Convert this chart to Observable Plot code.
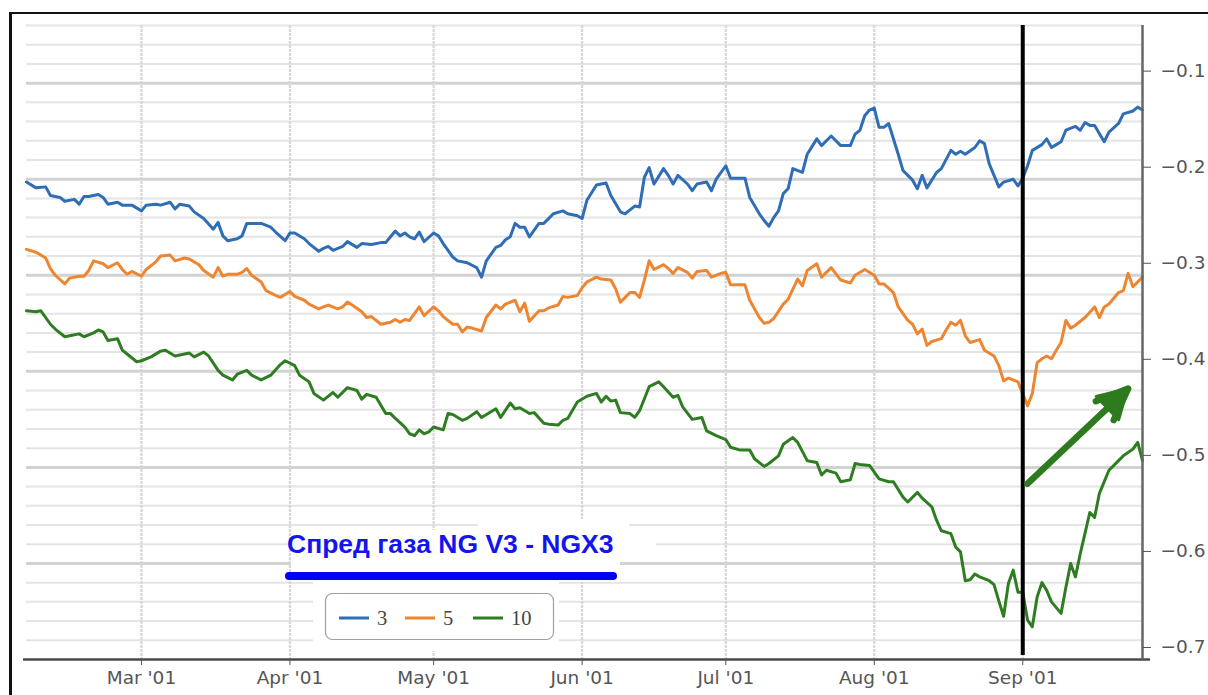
<!DOCTYPE html>
<html>
<head>
<meta charset="utf-8">
<script src="https://cdn.jsdelivr.net/npm/d3@7"></script>
<script src="https://cdn.jsdelivr.net/npm/@observablehq/plot@0.6"></script>
<style>
  body { margin: 0; background: #fff; }
  #wrap { position: relative; width: 1208px; height: 695px; overflow: hidden; background: #fff; }
  #chart, #overlay { position: absolute; left: 0; top: 0; }
  #frame { position: absolute; left: 9px; top: 12px; width: 1400px; height: 900px;
           border-left: 3px solid #111; border-top: 2px solid #111; pointer-events: none; }
</style>
</head>
<body>
<div id="wrap"><div id="chart"></div><svg id="overlay" width="1208" height="695"></svg><div id="frame"></div></div>
<script>
// ---------------- data ----------------
const seriesNames = ["3", "5", "10"];
const seriesColors = ["#2f6db5", "#ee8530", "#2f7d22"];

const series3 = [
  ["2001-02-05",-0.203],["2001-02-07",-0.209],["2001-02-09",-0.208],["2001-02-10",-0.217],["2001-02-12",-0.219],
  ["2001-02-13",-0.223],["2001-02-15",-0.221],["2001-02-16",-0.226],["2001-02-17",-0.218],["2001-02-18",-0.218],
  ["2001-02-20",-0.216],["2001-02-21",-0.219],["2001-02-22",-0.226],["2001-02-24",-0.224],["2001-02-25",-0.227],
  ["2001-02-27",-0.227],["2001-03-01",-0.233],["2001-03-02",-0.227],["2001-03-04",-0.226],["2001-03-05",-0.227],
  ["2001-03-07",-0.224],["2001-03-08",-0.231],["2001-03-09",-0.226],["2001-03-11",-0.228],["2001-03-12",-0.234],
  ["2001-03-14",-0.241],["2001-03-16",-0.252],["2001-03-17",-0.245],["2001-03-18",-0.259],["2001-03-19",-0.264],
  ["2001-03-21",-0.262],["2001-03-22",-0.259],["2001-03-23",-0.246],["2001-03-24",-0.246],["2001-03-26",-0.246],
  ["2001-03-28",-0.250],["2001-03-29",-0.255],["2001-03-31",-0.264],["2001-04-01",-0.256],["2001-04-02",-0.256],
  ["2001-04-04",-0.262],["2001-04-05",-0.267],["2001-04-07",-0.275],["2001-04-08",-0.272],["2001-04-09",-0.270],
  ["2001-04-10",-0.274],["2001-04-12",-0.270],["2001-04-13",-0.265],["2001-04-15",-0.271],["2001-04-16",-0.267],
  ["2001-04-18",-0.268],["2001-04-20",-0.266],["2001-04-21",-0.266],["2001-04-22",-0.260],["2001-04-23",-0.254],
  ["2001-04-24",-0.259],["2001-04-25",-0.256],["2001-04-26",-0.260],["2001-04-27",-0.262],["2001-04-28",-0.255],
  ["2001-04-29",-0.265],["2001-05-01",-0.256],["2001-05-02",-0.259],["2001-05-03",-0.267],["2001-05-05",-0.281],
  ["2001-05-06",-0.285],["2001-05-08",-0.287],["2001-05-10",-0.292],["2001-05-11",-0.302],["2001-05-12",-0.285],
  ["2001-05-14",-0.271],["2001-05-15",-0.269],["2001-05-16",-0.263],["2001-05-17",-0.260],["2001-05-18",-0.246],
  ["2001-05-19",-0.250],["2001-05-20",-0.250],["2001-05-21",-0.260],["2001-05-23",-0.246],["2001-05-24",-0.246],
  ["2001-05-25",-0.241],["2001-05-26",-0.236],["2001-05-28",-0.233],["2001-05-29",-0.236],["2001-05-31",-0.238],
  ["2001-06-01",-0.241],["2001-06-02",-0.222],["2001-06-04",-0.206],["2001-06-06",-0.204],["2001-06-07",-0.217],
  ["2001-06-09",-0.234],["2001-06-10",-0.236],["2001-06-11",-0.232],["2001-06-12",-0.228],["2001-06-13",-0.229],
  ["2001-06-14",-0.198],["2001-06-15",-0.188],["2001-06-16",-0.205],["2001-06-18",-0.189],["2001-06-19",-0.196],
  ["2001-06-20",-0.205],["2001-06-21",-0.196],["2001-06-23",-0.205],["2001-06-24",-0.212],["2001-06-25",-0.205],
  ["2001-06-27",-0.203],["2001-06-28",-0.212],["2001-06-29",-0.200],["2001-07-01",-0.186],["2001-07-02",-0.199],
  ["2001-07-05",-0.199],["2001-07-06",-0.219],["2001-07-08",-0.236],["2001-07-09",-0.243],["2001-07-10",-0.249],
  ["2001-07-11",-0.240],["2001-07-12",-0.233],["2001-07-13",-0.215],["2001-07-14",-0.210],["2001-07-15",-0.189],
  ["2001-07-17",-0.193],["2001-07-18",-0.174],["2001-07-20",-0.158],["2001-07-21",-0.165],["2001-07-22",-0.160],
  ["2001-07-23",-0.155],["2001-07-25",-0.165],["2001-07-27",-0.165],["2001-07-28",-0.153],["2001-07-29",-0.149],
  ["2001-07-30",-0.134],["2001-07-31",-0.128],["2001-08-01",-0.126],["2001-08-02",-0.146],["2001-08-03",-0.146],
  ["2001-08-04",-0.142],["2001-08-06",-0.174],["2001-08-07",-0.191],["2001-08-09",-0.201],["2001-08-10",-0.210],
  ["2001-08-11",-0.196],["2001-08-12",-0.209],["2001-08-14",-0.193],["2001-08-15",-0.189],["2001-08-17",-0.170],
  ["2001-08-18",-0.174],["2001-08-19",-0.171],["2001-08-20",-0.174],["2001-08-22",-0.167],["2001-08-23",-0.160],
  ["2001-08-24",-0.163],["2001-08-25",-0.184],["2001-08-27",-0.208],["2001-08-28",-0.203],["2001-08-30",-0.200],
  ["2001-08-31",-0.207],["2001-09-01",-0.199],["2001-09-02",-0.186],["2001-09-03",-0.170],["2001-09-05",-0.164],
  ["2001-09-06",-0.158],["2001-09-07",-0.167],["2001-09-08",-0.164],["2001-09-09",-0.161],["2001-09-10",-0.149],
  ["2001-09-12",-0.145],["2001-09-13",-0.149],["2001-09-14",-0.141],["2001-09-15",-0.144],["2001-09-16",-0.144],
  ["2001-09-18",-0.161],["2001-09-19",-0.151],["2001-09-21",-0.142],["2001-09-22",-0.132],["2001-09-24",-0.129],
  ["2001-09-25",-0.125],["2001-09-26",-0.128]
];

const series5 = [
  ["2001-02-05",-0.273],["2001-02-07",-0.276],["2001-02-08",-0.279],["2001-02-09",-0.282],["2001-02-10",-0.293],
  ["2001-02-11",-0.300],["2001-02-13",-0.309],["2001-02-14",-0.303],["2001-02-16",-0.301],["2001-02-17",-0.301],
  ["2001-02-18",-0.295],["2001-02-19",-0.285],["2001-02-21",-0.288],["2001-02-22",-0.292],["2001-02-24",-0.287],
  ["2001-02-25",-0.294],["2001-02-26",-0.299],["2001-02-27",-0.296],["2001-03-01",-0.301],["2001-03-02",-0.294],
  ["2001-03-04",-0.286],["2001-03-05",-0.280],["2001-03-07",-0.279],["2001-03-08",-0.285],["2001-03-10",-0.282],
  ["2001-03-11",-0.283],["2001-03-13",-0.289],["2001-03-14",-0.295],["2001-03-16",-0.302],["2001-03-17",-0.292],
  ["2001-03-18",-0.301],["2001-03-19",-0.299],["2001-03-21",-0.299],["2001-03-22",-0.297],["2001-03-23",-0.293],
  ["2001-03-24",-0.300],["2001-03-26",-0.307],["2001-03-27",-0.316],["2001-03-29",-0.321],["2001-03-30",-0.323],
  ["2001-04-01",-0.317],["2001-04-02",-0.322],["2001-04-04",-0.326],["2001-04-05",-0.330],["2001-04-07",-0.335],
  ["2001-04-08",-0.333],["2001-04-09",-0.331],["2001-04-11",-0.335],["2001-04-12",-0.333],["2001-04-13",-0.328],
  ["2001-04-14",-0.331],["2001-04-16",-0.338],["2001-04-17",-0.344],["2001-04-18",-0.343],["2001-04-20",-0.351],
  ["2001-04-22",-0.349],["2001-04-23",-0.346],["2001-04-24",-0.349],["2001-04-25",-0.346],["2001-04-26",-0.347],
  ["2001-04-28",-0.333],["2001-04-29",-0.342],["2001-05-01",-0.333],["2001-05-02",-0.337],["2001-05-03",-0.343],
  ["2001-05-05",-0.351],["2001-05-06",-0.351],["2001-05-07",-0.359],["2001-05-08",-0.354],["2001-05-09",-0.355],
  ["2001-05-11",-0.358],["2001-05-12",-0.344],["2001-05-14",-0.331],["2001-05-15",-0.335],["2001-05-16",-0.330],
  ["2001-05-18",-0.326],["2001-05-19",-0.338],["2001-05-20",-0.329],["2001-05-21",-0.348],["2001-05-23",-0.337],
  ["2001-05-24",-0.337],["2001-05-25",-0.334],["2001-05-27",-0.331],["2001-05-28",-0.322],["2001-05-29",-0.323],
  ["2001-05-31",-0.321],["2001-06-01",-0.313],["2001-06-02",-0.307],["2001-06-04",-0.302],["2001-06-05",-0.304],
  ["2001-06-07",-0.305],["2001-06-08",-0.314],["2001-06-09",-0.328],["2001-06-10",-0.323],["2001-06-11",-0.318],
  ["2001-06-12",-0.318],["2001-06-13",-0.323],["2001-06-14",-0.305],["2001-06-15",-0.285],["2001-06-16",-0.294],
  ["2001-06-18",-0.289],["2001-06-19",-0.293],["2001-06-20",-0.298],["2001-06-21",-0.292],["2001-06-23",-0.297],
  ["2001-06-24",-0.303],["2001-06-25",-0.296],["2001-06-27",-0.295],["2001-06-28",-0.302],["2001-06-30",-0.298],
  ["2001-07-01",-0.297],["2001-07-02",-0.310],["2001-07-05",-0.310],["2001-07-06",-0.326],["2001-07-08",-0.344],
  ["2001-07-09",-0.350],["2001-07-10",-0.349],["2001-07-11",-0.345],["2001-07-13",-0.330],["2001-07-14",-0.325],
  ["2001-07-16",-0.304],["2001-07-17",-0.311],["2001-07-18",-0.295],["2001-07-20",-0.288],["2001-07-21",-0.302],
  ["2001-07-23",-0.292],["2001-07-25",-0.305],["2001-07-27",-0.308],["2001-07-28",-0.300],["2001-07-30",-0.294],
  ["2001-08-01",-0.300],["2001-08-02",-0.309],["2001-08-03",-0.309],["2001-08-05",-0.318],["2001-08-06",-0.333],
  ["2001-08-08",-0.347],["2001-08-09",-0.351],["2001-08-10",-0.361],["2001-08-11",-0.356],["2001-08-12",-0.373],
  ["2001-08-13",-0.369],["2001-08-15",-0.366],["2001-08-16",-0.357],["2001-08-17",-0.349],["2001-08-18",-0.352],
  ["2001-08-19",-0.347],["2001-08-20",-0.363],["2001-08-21",-0.370],["2001-08-23",-0.367],["2001-08-24",-0.378],
  ["2001-08-26",-0.384],["2001-08-27",-0.394],["2001-08-28",-0.410],["2001-08-29",-0.407],["2001-08-30",-0.409],
  ["2001-08-31",-0.411],["2001-09-02",-0.436],["2001-09-03",-0.423],["2001-09-04",-0.391],["2001-09-05",-0.387],
  ["2001-09-06",-0.384],["2001-09-07",-0.387],["2001-09-08",-0.378],["2001-09-09",-0.370],["2001-09-10",-0.347],
  ["2001-09-11",-0.355],["2001-09-12",-0.352],["2001-09-14",-0.344],["2001-09-16",-0.333],["2001-09-17",-0.344],
  ["2001-09-18",-0.333],["2001-09-19",-0.330],["2001-09-21",-0.318],["2001-09-22",-0.316],["2001-09-23",-0.298],
  ["2001-09-24",-0.312],["2001-09-26",-0.302]
];

const series10 = [
  ["2001-02-05",-0.337],["2001-02-07",-0.338],["2001-02-08",-0.337],["2001-02-10",-0.351],["2001-02-11",-0.356],
  ["2001-02-13",-0.364],["2001-02-14",-0.363],["2001-02-16",-0.361],["2001-02-17",-0.364],["2001-02-19",-0.360],
  ["2001-02-20",-0.357],["2001-02-21",-0.359],["2001-02-22",-0.368],["2001-02-24",-0.366],["2001-02-25",-0.378],
  ["2001-02-26",-0.382],["2001-02-28",-0.390],["2001-03-01",-0.389],["2001-03-03",-0.385],["2001-03-05",-0.379],
  ["2001-03-06",-0.378],["2001-03-08",-0.384],["2001-03-11",-0.381],["2001-03-12",-0.385],["2001-03-14",-0.380],
  ["2001-03-15",-0.384],["2001-03-17",-0.399],["2001-03-18",-0.404],["2001-03-20",-0.409],["2001-03-21",-0.403],
  ["2001-03-23",-0.399],["2001-03-24",-0.404],["2001-03-26",-0.409],["2001-03-28",-0.404],["2001-03-30",-0.393],
  ["2001-03-31",-0.389],["2001-04-02",-0.394],["2001-04-03",-0.404],["2001-04-05",-0.411],["2001-04-06",-0.423],
  ["2001-04-08",-0.430],["2001-04-10",-0.422],["2001-04-11",-0.427],["2001-04-13",-0.417],["2001-04-15",-0.420],
  ["2001-04-16",-0.429],["2001-04-17",-0.424],["2001-04-19",-0.427],["2001-04-21",-0.444],["2001-04-22",-0.444],
  ["2001-04-23",-0.449],["2001-04-25",-0.458],["2001-04-26",-0.465],["2001-04-27",-0.467],["2001-04-28",-0.461],
  ["2001-04-29",-0.465],["2001-04-30",-0.463],["2001-05-01",-0.458],["2001-05-03",-0.461],["2001-05-04",-0.444],
  ["2001-05-05",-0.445],["2001-05-07",-0.451],["2001-05-08",-0.449],["2001-05-10",-0.442],["2001-05-11",-0.448],
  ["2001-05-14",-0.439],["2001-05-15",-0.448],["2001-05-17",-0.433],["2001-05-18",-0.439],["2001-05-19",-0.438],
  ["2001-05-21",-0.444],["2001-05-22",-0.443],["2001-05-24",-0.454],["2001-05-25",-0.455],["2001-05-27",-0.456],
  ["2001-05-28",-0.451],["2001-05-29",-0.449],["2001-05-31",-0.432],["2001-06-02",-0.426],["2001-06-04",-0.423],
  ["2001-06-05",-0.432],["2001-06-06",-0.426],["2001-06-07",-0.431],["2001-06-08",-0.430],["2001-06-09",-0.443],
  ["2001-06-11",-0.444],["2001-06-12",-0.448],["2001-06-13",-0.441],["2001-06-15",-0.416],["2001-06-17",-0.411],
  ["2001-06-18",-0.416],["2001-06-20",-0.427],["2001-06-21",-0.425],["2001-06-22",-0.437],["2001-06-24",-0.450],
  ["2001-06-26",-0.448],["2001-06-27",-0.462],["2001-06-29",-0.467],["2001-06-30",-0.469],["2001-07-01",-0.471],
  ["2001-07-02",-0.479],["2001-07-04",-0.482],["2001-07-06",-0.482],["2001-07-07",-0.491],["2001-07-09",-0.499],
  ["2001-07-10",-0.496],["2001-07-12",-0.488],["2001-07-13",-0.476],["2001-07-15",-0.469],["2001-07-16",-0.474],
  ["2001-07-18",-0.493],["2001-07-20",-0.495],["2001-07-21",-0.508],["2001-07-22",-0.503],["2001-07-24",-0.506],
  ["2001-07-25",-0.515],["2001-07-26",-0.514],["2001-07-27",-0.513],["2001-07-28",-0.496],["2001-07-29",-0.497],
  ["2001-07-31",-0.498],["2001-08-02",-0.512],["2001-08-04",-0.515],["2001-08-05",-0.515],["2001-08-07",-0.531],
  ["2001-08-08",-0.536],["2001-08-10",-0.526],["2001-08-11",-0.532],["2001-08-13",-0.541],["2001-08-14",-0.555],
  ["2001-08-15",-0.566],["2001-08-17",-0.569],["2001-08-18",-0.583],["2001-08-19",-0.588],["2001-08-20",-0.618],
  ["2001-08-21",-0.617],["2001-08-22",-0.611],["2001-08-23",-0.614],["2001-08-25",-0.618],["2001-08-26",-0.622],
  ["2001-08-27",-0.639],["2001-08-28",-0.655],["2001-08-29",-0.621],["2001-08-30",-0.607],["2001-08-31",-0.630],
  ["2001-09-01",-0.630],["2001-09-02",-0.659],["2001-09-03",-0.666],["2001-09-04",-0.635],["2001-09-05",-0.620],
  ["2001-09-06",-0.628],["2001-09-07",-0.640],["2001-09-09",-0.652],["2001-09-10",-0.625],["2001-09-11",-0.600],
  ["2001-09-12",-0.614],["2001-09-13",-0.590],["2001-09-15",-0.547],["2001-09-16",-0.552],["2001-09-17",-0.527],
  ["2001-09-19",-0.503],["2001-09-21",-0.493],["2001-09-22",-0.488],["2001-09-24",-0.481],["2001-09-25",-0.474],
  ["2001-09-26",-0.493]
];

const xDomain = ["2001-02-05", "2001-09-26"];
const monthTicks = ["2001-03-01","2001-04-01","2001-05-01","2001-06-01","2001-07-01","2001-08-01","2001-09-01"];
const yDomain = [-0.7, -0.04];
const yMajorTicks = [-0.7, -0.6, -0.5, -0.4, -0.3, -0.2, -0.1];
const yMinorTicks = [-0.68,-0.66,-0.64,-0.62,-0.58,-0.56,-0.54,-0.52,-0.48,-0.46,-0.44,-0.42,
                     -0.38,-0.36,-0.34,-0.32,-0.28,-0.26,-0.24,-0.22,-0.18,-0.16,-0.14,-0.12,-0.08,-0.06,-0.04];
const markerDate = "2001-09-01";
const arrowAnnotation = [{x1: "2001-09-02", y1: -0.517, x2: "2001-09-23", y2: -0.418}];
const titleText = "Спред газа NG V3 - NGX3";

// ---------------- build ----------------
const parse = d3.utcParse("%Y-%m-%d");
const allSeries = [series3, series5, series10];
const rows = [];
allSeries.forEach((arr, i) => arr.forEach(([d, v]) => rows.push({series: seriesNames[i], date: parse(d), value: v})));
const arrows = arrowAnnotation.map(a => ({x1: parse(a.x1), y1: a.y1, x2: parse(a.x2), y2: a.y2}));
const xd = xDomain.map(parse);
const months = monthTicks.map(parse);
const arrowGreen = "#2e7a1f";

const chart = Plot.plot({
  width: 1208,
  height: 695,
  marginLeft: 26,
  marginRight: 66,
  marginTop: 25,
  marginBottom: 36,
  style: {background: "transparent", fontFamily: "'DejaVu Sans', sans-serif"},
  x: {type: "utc", domain: xd},
  y: {domain: yDomain},
  color: {domain: seriesNames, range: seriesColors},
  marks: [
    Plot.ruleY(yMinorTicks, {stroke: "#e4e4e4", strokeWidth: 2}),
    Plot.ruleY(yMajorTicks.slice(1), {stroke: "#d2d2d2", strokeWidth: 3}),
    Plot.ruleX(months, {stroke: "#d6d6d6", strokeWidth: 2.2, strokeDasharray: "3,1"}),
    Plot.line(rows, {x: "date", y: "value", z: "series", stroke: "series", strokeWidth: 3, strokeLinejoin: "round"}),
    Plot.ruleX([parse(markerDate)], {stroke: "#000", strokeWidth: 4, insetBottom: 4}),
    Plot.arrow(arrows, {x1: "x1", y1: "y1", x2: "x2", y2: "y2", stroke: arrowGreen, strokeWidth: 6.5,
                        headLength: 8, headAngle: 44, strokeLinecap: "round"}),
    Plot.dot(arrows, {x: "x2", y: "y2", dx: -14, dy: 13, symbol: "triangle", r: 12, rotate: 46,
                      fill: arrowGreen, stroke: arrowGreen, strokeWidth: 3, strokeLinejoin: "round"}),
    Plot.ruleY([yDomain[0]], {stroke: "#4a4a4a", strokeWidth: 2.5, insetLeft: -3, insetRight: -8}),
    Plot.ruleX([xd[1]], {stroke: "#666", strokeWidth: 2.5}),
    Plot.axisX(months, {tickFormat: d3.utcFormat("%b '%y"), tickSize: 6, tickPadding: 5, fontSize: 18.5, color: "#555", label: null}),
    Plot.axisY(yMajorTicks, {anchor: "right", tickFormat: d3.format(".1f"), tickSize: 8, tickPadding: 10, dy: -12, fontSize: 18.5, color: "#555", label: null})
  ]
});
document.getElementById("chart").appendChild(chart);

// ---------------- overlay: title, underline, legend ----------------
const ov = d3.select("#overlay");
// white backgrounds behind title and legend
[[478, 519, 151, 12], [291, 530, 365, 32], [291, 562, 329, 20], [313, 581, 246, 70]].forEach(([x, y, w, h]) =>
  ov.append("rect").attr("x", x).attr("y", y).attr("width", w).attr("height", h).attr("fill", "#fff"));

ov.append("text").attr("x", 287).attr("y", 553)
  .attr("font-family", "'Liberation Sans', Arial, sans-serif").attr("font-weight", "bold").attr("font-size", 26.5)
  .attr("fill", "#1414ee").text(titleText);
ov.append("line").attr("x1", 289).attr("x2", 613).attr("y1", 576).attr("y2", 576)
  .attr("stroke", "#0000f2").attr("stroke-width", 8).attr("stroke-linecap", "round");

ov.append("rect").attr("x", 325.5).attr("y", 593.5).attr("width", 228).attr("height", 46).attr("rx", 7)
  .attr("fill", "#fff").attr("stroke", "#9aa39a").attr("stroke-width", 1.2);
const legendX = [339, 405, 473];
seriesNames.forEach((name, i) => {
  ov.append("line").attr("x1", legendX[i]).attr("x2", legendX[i] + 30).attr("y1", 618).attr("y2", 618)
    .attr("stroke", seriesColors[i]).attr("stroke-width", 3);
  ov.append("text").attr("x", legendX[i] + 38).attr("y", 625)
    .attr("font-family", "'Liberation Serif', 'DejaVu Serif', serif").attr("font-size", 20.5)
    .attr("fill", "#444").text(name);
});
</script>
</body>
</html>
